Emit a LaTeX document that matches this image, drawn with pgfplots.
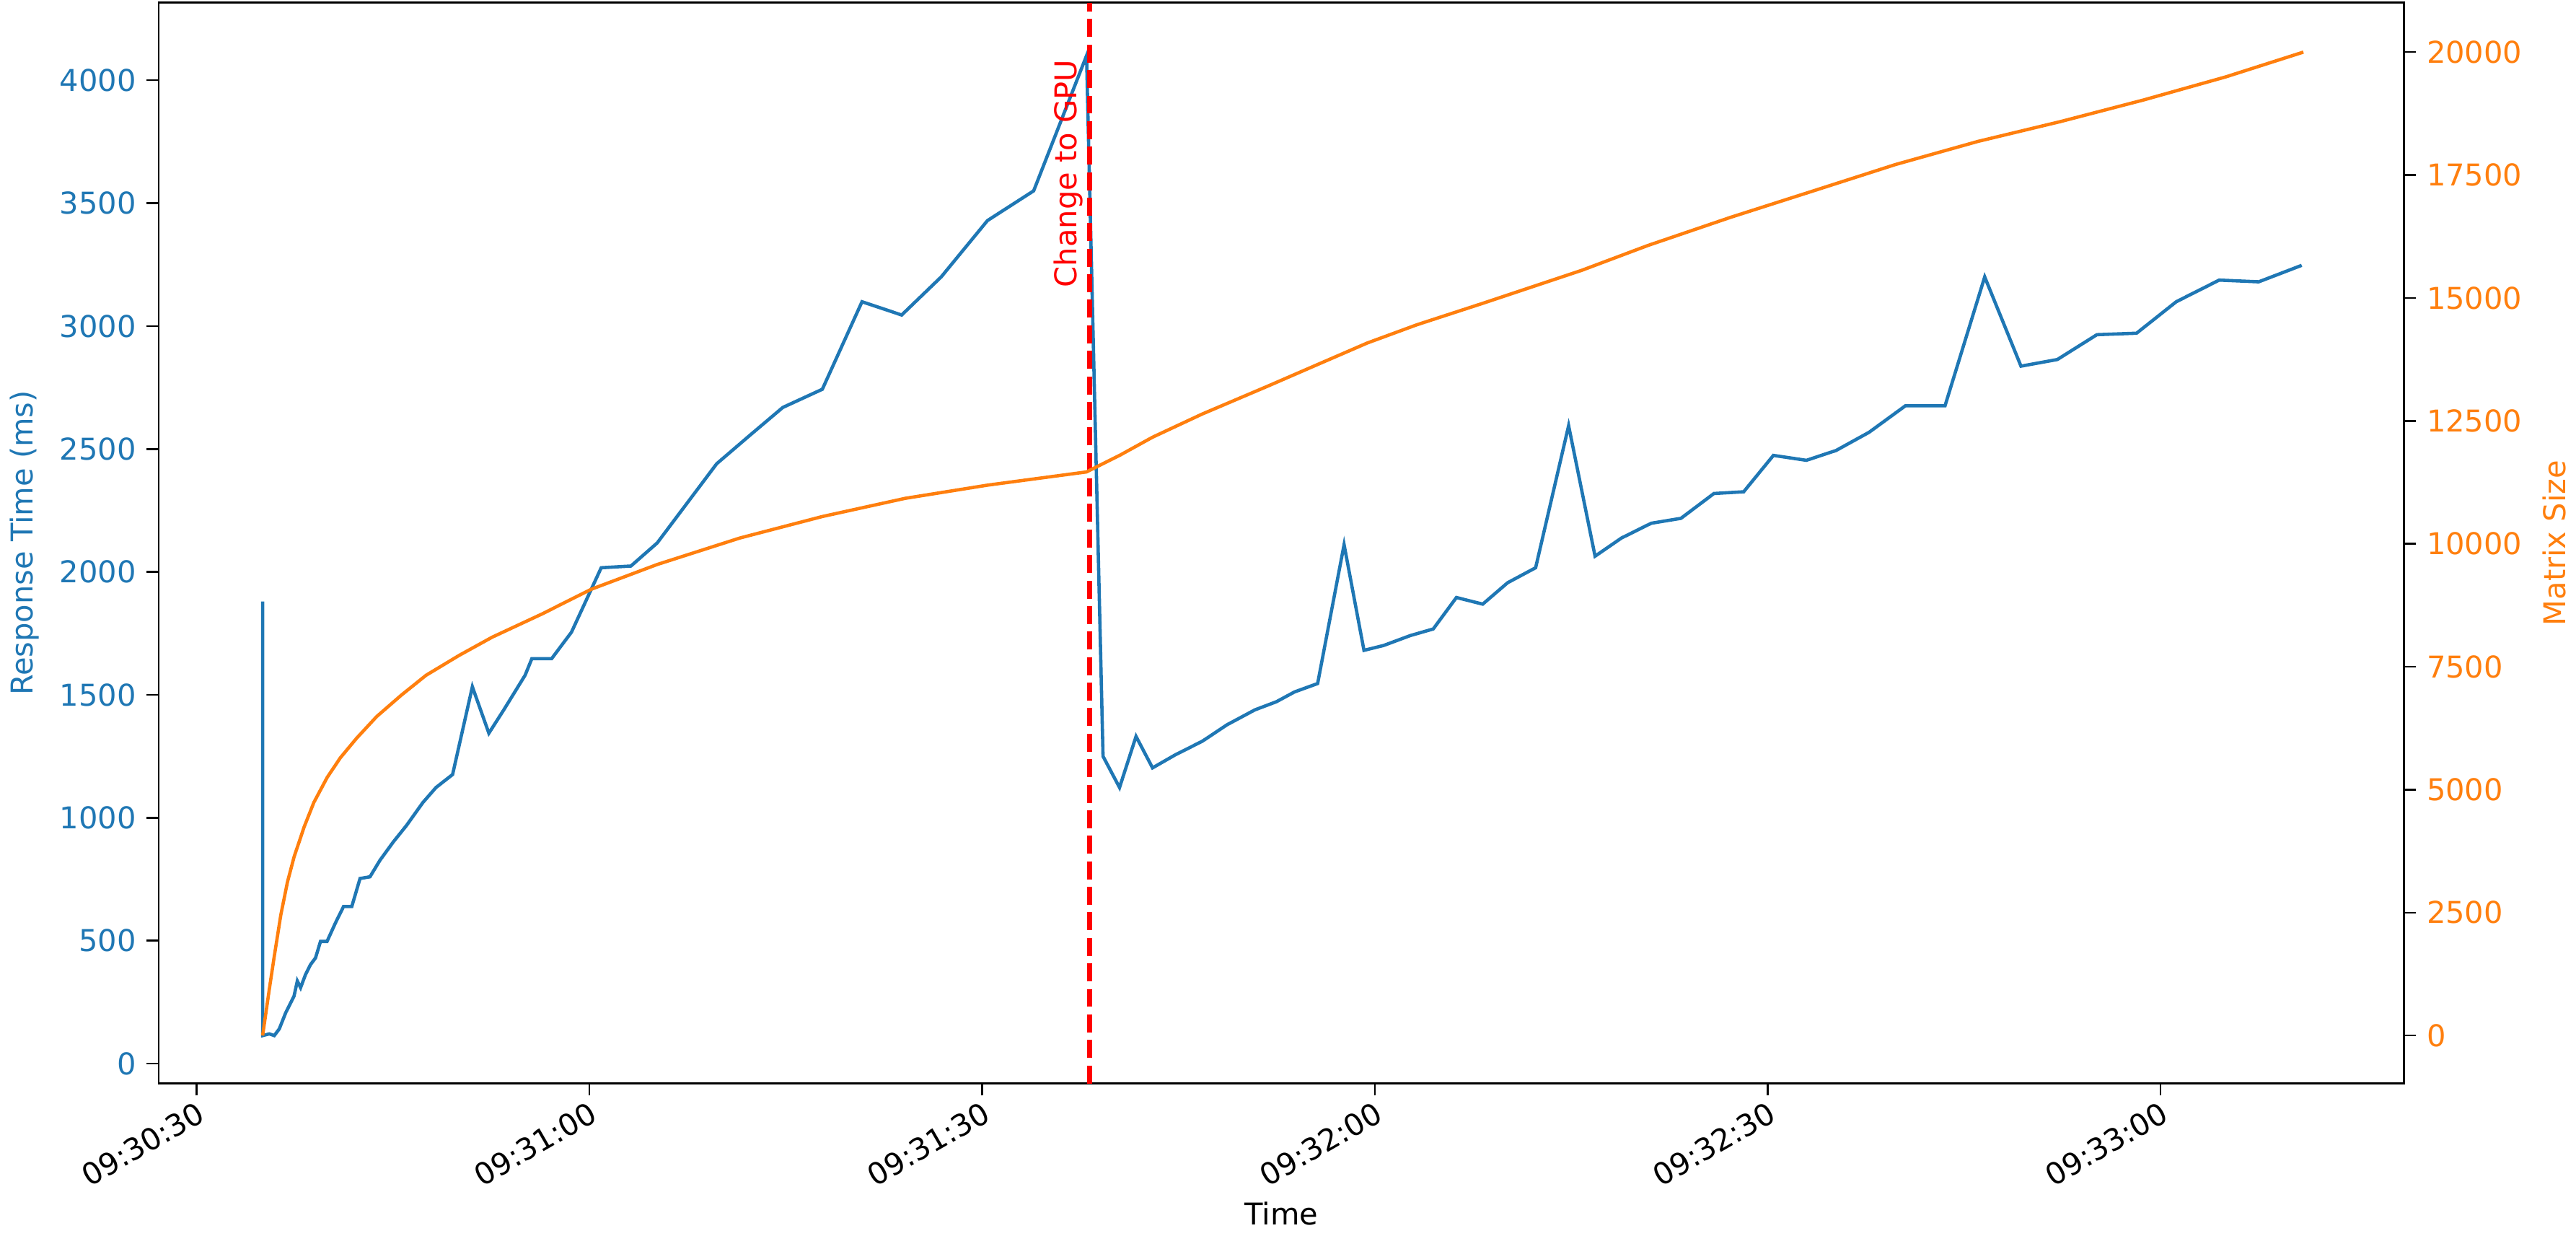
\documentclass[border=0pt]{standalone}
\usepackage{pgfplots}
\pgfplotsset{compat=1.18}
\usepackage{fontspec}
\setmainfont{DejaVu Sans}
\definecolor{mblue}{HTML}{1F77B4}
\definecolor{morange}{HTML}{FF7F0E}
\begin{document}
\begin{tikzpicture}
\pgfplotsset{every axis/.append style={scale only axis, width=748pt, height=360pt,
 xmin=-2.9, xmax=168.6, tick align=outside, font=\fontsize{10}{12}\selectfont,
 /pgf/number format/assume math mode=true, scaled y ticks=false,
 /pgf/number format/1000 sep={}, major tick length=4pt,
 axis line style={black, line width=0.6pt}, every tick/.style={black, line width=0.6pt}}}
\begin{axis}[xtick pos=bottom, ytick pos=left, ymin=-80.7, ymax=4316,
 ytick={0,500,...,4000}, yticklabel style={text=mblue},
 ylabel={Response Time (ms)}, ylabel style={text=mblue},
 xtick={0,30,60,90,120,150},
 xticklabels={09:30:30,09:31:00,09:31:30,09:32:00,09:32:30,09:33:00},
 xticklabel style={rotate=30, anchor=north east, inner sep=1pt},
 xlabel={Time}, clip=false]
\addplot[mblue, line width=1.1pt] coordinates {
(5.04,1880)(5.04,114)(5.55,121)(5.93,114)(6.31,141)(6.81,208)(7.44,275)(7.69,336)(7.94,309)(8.32,363)(8.70,403)(9.08,430)(9.46,497)(9.96,497)(10.59,571)(11.22,639)(11.85,639)(12.48,753)(13.24,760)(14.00,827)(15.01,901)(16.02,968)(17.28,1062)(18.28,1123)(19.55,1176)(21.06,1533)(22.32,1344)(23.46,1439)(25.09,1580)(25.60,1647)(27.11,1647)(28.63,1755)(30.90,2017)(33.17,2024)(35.18,2118)(39.72,2440)(42.24,2555)(44.77,2669)(47.79,2743)(50.82,3099)(53.85,3045)(56.87,3200)(60.40,3429)(63.93,3550)(67.97,4100)(69.23,1250)(70.49,1123)(71.75,1331)(73.01,1203)(74.78,1257)(76.80,1311)(78.69,1378)(80.83,1439)(82.47,1472)(83.86,1512)(85.62,1546)(87.64,2111)(89.16,1681)(90.67,1701)(92.69,1741)(94.45,1768)(96.22,1896)(98.23,1869)(100.13,1956)(102.27,2017)(104.79,2595)(106.81,2064)(108.83,2138)(111.10,2198)(113.37,2218)(115.89,2319)(118.16,2326)(120.43,2474)(122.95,2454)(125.22,2494)(127.74,2568)(130.52,2676)(133.54,2676)(136.57,3200)(139.34,2837)(142.12,2864)(145.14,2965)(148.17,2971)(151.20,3099)(154.48,3187)(157.50,3180)(160.78,3247)};
\addplot[red, line width=1.7pt, dash pattern=on 6pt off 2.5pt] coordinates {(68.22,-80.7)(68.22,4316)};
\node[rotate=90, anchor=south east, text=red, inner sep=2pt] at (axis cs:68.22,4110) {Change to GPU};
\end{axis}
\begin{axis}[axis y line*=right, axis x line=none, ymin=-975, ymax=21008,
 ytick={0,2500,...,20000}, yticklabel style={text=morange},
 ylabel={Matrix Size}, ylabel style={text=morange}]
\addplot[morange, line width=1.1pt] coordinates {
(5.04,0)(5.55,941)(5.93,1613)(6.43,2454)(6.94,3126)(7.44,3630)(8.20,4235)(8.95,4739)(9.96,5244)(10.97,5647)(12.23,6050)(13.75,6487)(15.64,6924)(17.53,7328)(20.05,7731)(22.57,8101)(26.36,8571)(30.14,9076)(35.18,9580)(41.49,10118)(47.79,10555)(54.10,10924)(60.40,11193)(67.97,11462)(70.49,11798)(73.01,12168)(76.80,12639)(81.84,13210)(85.62,13647)(89.41,14084)(93.19,14454)(98.23,14891)(102.02,15227)(105.80,15563)(110.84,16067)(117.15,16639)(123.46,17176)(129.76,17714)(136.07,18185)(142.37,18588)(148.68,19025)(154.98,19496)(160.91,20000)};
\end{axis}
\end{tikzpicture}
\end{document}
